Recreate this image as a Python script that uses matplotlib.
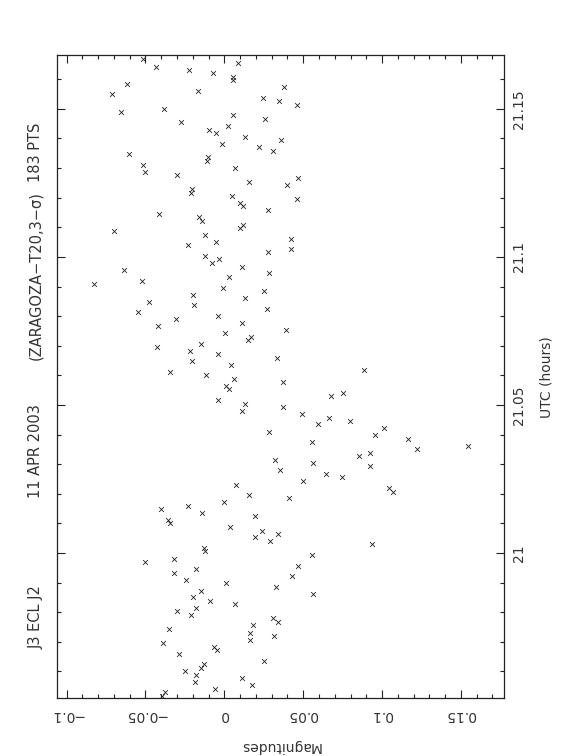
import matplotlib.pyplot as plt
from matplotlib.ticker import FixedLocator, MultipleLocator

# magnitudes (x in the rotated page) and UTC hours (y)
mag = [-0.0514, -0.0433, -0.0224, -0.0074, 0.0085, 0.0055, 0.0057, -0.0615, -0.0715, -0.0165,
       0.0376, 0.0247, 0.0349, 0.0459, -0.0653, -0.0383, 0.0055, 0.0258, -0.0273, -0.0095,
       -0.0051, 0.0025, 0.0129, 0.0359, -0.0013, 0.0220, 0.0309, -0.0602, -0.0101, -0.0112,
       -0.0514, -0.0503, -0.0302, 0.0068, 0.0159, 0.0467, 0.0400, -0.0207, -0.0214, 0.0051,
       0.0101, 0.0120, 0.0461, 0.0279, -0.0412,
       -0.0161, -0.0140, 0.0120, 0.0101, -0.0700, -0.0120, 0.0421, -0.0051, -0.0230, 0.0421,
       0.0279, -0.0120, -0.0080, -0.0032, 0.0112, -0.0638, 0.0281, 0.0032, -0.0520, -0.0829,
       -0.0008, 0.0254, -0.0199, 0.0131, -0.0478, -0.0190, 0.0273, -0.0548, -0.0038, -0.0309,
       0.0112, -0.0419, 0.0393, 0.0002, 0.0171, 0.0152, -0.0427, -0.0148, -0.0218, -0.0038,
       0.0334, -0.0207, 0.0042, -0.0347, -0.0116,
       0.0063, 0.0374, 0.0013, 0.0032, -0.0038, 0.0133, 0.0114, 0.0374, 0.0493, 0.0285,
       0.0323, 0.0355, 0.0499, 0.0076, 0.0156, 0.0408, -0.0002, -0.0402, -0.0233, -0.0142,
       -0.0359, -0.0342, 0.0197, 0.0038,
       0.0237, 0.0197, 0.0338, 0.0287, -0.0131, -0.0120, -0.0503, -0.0321, -0.0319, -0.0180,
       -0.0241, 0.0011, 0.0469, 0.0431, 0.0330, -0.0150, -0.0199, -0.0091, 0.0070, -0.0180,
       -0.0298, -0.0209, 0.0311, 0.0342, 0.0180, 0.0163, 0.0165, 0.0313, -0.0349, -0.0389,
       -0.0068, -0.0047, -0.0287, 0.0254, -0.0129, -0.0148, -0.0247, -0.0180, -0.0188, 0.0112,
       0.0173, -0.0057, -0.0374, -0.0395, 0.0368,
       0.0885, 0.0674, 0.0752, 0.0596, 0.0665, 0.0794, 0.1014, 0.0955, 0.1164, 0.1223,
       0.1547, 0.0555, 0.0854, 0.0925, 0.0925, 0.0564, 0.0646, 0.0746, 0.1046, 0.1067,
       0.0938, 0.0558, 0.0560]
utc = [21.1669, 21.1643, 21.1632, 21.1620, 21.1655, 21.1607, 21.1598, 21.1584, 21.1550, 21.1561,
       21.1573, 21.1537, 21.1526, 21.1513, 21.1490, 21.1501, 21.1479, 21.1466, 21.1455, 21.1430,
       21.1419, 21.1441, 21.1406, 21.1395, 21.1383, 21.1372, 21.1359, 21.1347, 21.1337, 21.1324,
       21.1312, 21.1287, 21.1277, 21.1301, 21.1253, 21.1266, 21.1242, 21.1230, 21.1217, 21.1206,
       21.1182, 21.1171, 21.1195, 21.1159, 21.1145,
       21.1134, 21.1122, 21.1109, 21.1098, 21.1086, 21.1073, 21.1062, 21.1051, 21.1039, 21.1027,
       21.1016, 21.1003, 21.0980, 21.0992, 21.0967, 21.0955, 21.0944, 21.0931, 21.0919, 21.0908,
       21.0895, 21.0884, 21.0872, 21.0860, 21.0849, 21.0837, 21.0825, 21.0813, 21.0802, 21.0789,
       21.0778, 21.0766, 21.0754, 21.0742, 21.0730, 21.0718, 21.0695, 21.0705, 21.0682, 21.0671,
       21.0660, 21.0648, 21.0635, 21.0611, 21.0600,
       21.0588, 21.0577, 21.0564, 21.0553, 21.0517, 21.0504, 21.0481, 21.0493, 21.0468, 21.0410,
       21.0315, 21.0279, 21.0243, 21.0231, 21.0195, 21.0184, 21.0171, 21.0148, 21.0159, 21.0135,
       21.0111, 21.0100, 21.0124, 21.0089,
       21.0075, 21.0053, 21.0064, 21.0041, 21.0017, 21.0006, 20.9968, 20.9980, 20.9931, 20.9945,
       20.9909, 20.9898, 20.9956, 20.9921, 20.9885, 20.9873, 20.9850, 20.9838, 20.9827, 20.9814,
       20.9803, 20.9791, 20.9779, 20.9767, 20.9755, 20.9731, 20.9707, 20.9718, 20.9743, 20.9695,
       20.9682, 20.9671, 20.9659, 20.9636, 20.9624, 20.9613, 20.9600, 20.9588, 20.9564, 20.9578,
       20.9553, 20.9541, 20.9529, 20.9518, 20.9503,
       21.0618, 21.0529, 21.0541, 21.0434, 21.0457, 21.0445, 21.0421, 21.0398, 21.0385, 21.0350,
       21.0361, 21.0375, 21.0327, 21.0339, 21.0292, 21.0303, 21.0267, 21.0256, 21.0220, 21.0207,
       21.0029, 20.9992, 20.9860]

mag_ticks = [-0.1, -0.05, 0, 0.05, 0.1, 0.15]
mag_labels = ['\u22120.1', '\u22120.05', '0', '0.05', '0.1', '0.15']
utc_ticks = [21.0, 21.05, 21.1, 21.15]
utc_labels = ['21', '21.05', '21.1', '21.15']
title_parts = ['J3 ECL J2', '11 APR 2003', '(ZARAGOZA\u2212T20,3\u2212\u03c3)', '183 PTS']
title_y = [617, 451, 276, 152]   # centre of each piece, pixels from top

plt.rcParams['font.family'] = ['DejaVu Sans']
ink = '#222222'
txt = '#333333'

fig = plt.figure(figsize=(5.62, 7.56), dpi=100)
W, H = 562, 756
ax = fig.add_axes([56.7 / W, (H - 698) / H, (504 - 56.7) / W, (698 - 55) / H])

ax.scatter(mag, utc, marker='x', s=12, linewidths=0.6, color=ink)

ax.set_xlim(-0.1063, 0.1773)
ax.set_ylim(20.951, 21.1682)

ax.xaxis.set_major_locator(FixedLocator(mag_ticks))
ax.xaxis.set_minor_locator(MultipleLocator(0.01))
ax.set_xticklabels(mag_labels)
ax.yaxis.set_major_locator(FixedLocator(utc_ticks))
ax.yaxis.set_minor_locator(MultipleLocator(0.01))
ax.set_yticklabels(utc_labels)

ax.tick_params(which='both', direction='in', top=True, bottom=True, left=True, right=True,
               labelleft=False, labelright=True, color=ink, width=0.8)
ax.tick_params(which='major', length=6)
ax.tick_params(which='minor', length=3)
ax.tick_params(axis='x', labelrotation=180, pad=7, labelsize=10, labelcolor=txt)
ax.tick_params(axis='y', labelrotation=90, pad=6, labelsize=10, labelcolor=txt)
for lab in ax.get_yticklabels():
    lab.set_va('center')
for sp in ax.spines.values():
    sp.set_color(ink)
    sp.set_linewidth(0.9)

fig.text(280 / W, 1 - 746 / H, 'Magnitudes', rotation=180, ha='center', va='center',
         fontsize=10, color=txt)
fig.text(546 / W, 1 - 377 / H, 'UTC (hours)', rotation=90, ha='center', va='center',
         fontsize=10, color=txt)
for part, yc in zip(title_parts, title_y):
    fig.text(36 / W, 1 - yc / H, part, rotation=90, ha='center', va='center',
             fontsize=10.5, color=txt)

fig.savefig('out.png', dpi=100)
